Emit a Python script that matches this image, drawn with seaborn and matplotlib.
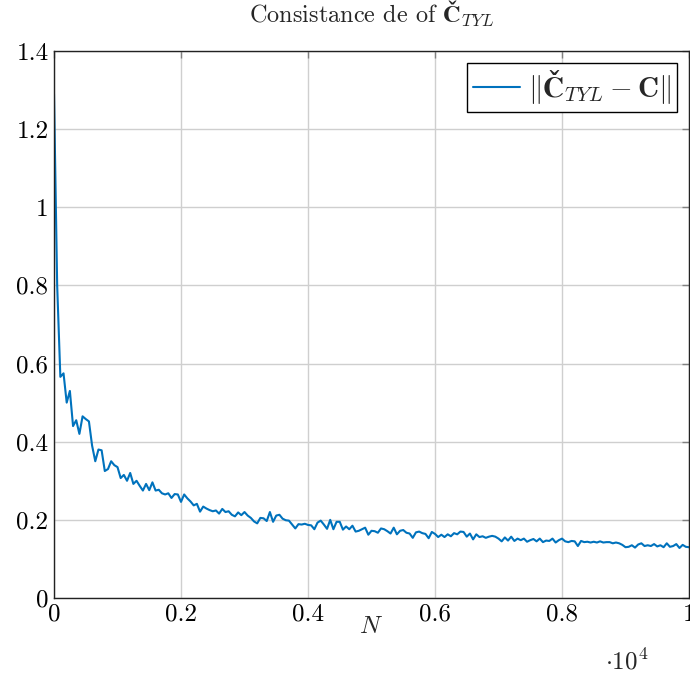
import numpy as np
import pandas as pd
import matplotlib.pyplot as plt
import seaborn as sns
from matplotlib.ticker import FuncFormatter

# ------------------------------------------------------------
# Data : error norm vs number of samples N (step 50)
# ------------------------------------------------------------
n_samples = list(range(0, 10001, 50))
err_norm = [
    1.29, 0.80, 0.566, 0.575, 0.50, 0.53, 0.44, 0.455, 0.42, 0.465,
    0.458, 0.452, 0.39, 0.35, 0.38, 0.378, 0.325, 0.33, 0.35, 0.34,
    0.335, 0.307, 0.315, 0.30, 0.32, 0.292, 0.30, 0.287, 0.275, 0.292,
    0.276, 0.296, 0.275, 0.277, 0.268, 0.265, 0.268, 0.256, 0.266, 0.265,
    0.246, 0.265, 0.255, 0.247, 0.237, 0.241, 0.221, 0.234, 0.229, 0.225,
    0.222, 0.224, 0.216, 0.228, 0.220, 0.222, 0.213, 0.209, 0.219, 0.212,
    0.220, 0.211, 0.205, 0.196, 0.191, 0.205, 0.204, 0.197, 0.220, 0.195,
    0.211, 0.213, 0.203, 0.199, 0.198, 0.188, 0.178, 0.189, 0.188, 0.190,
    0.187, 0.186, 0.176, 0.193, 0.198, 0.188, 0.177, 0.200, 0.176, 0.195,
    0.195, 0.175, 0.183, 0.176, 0.185, 0.170, 0.172, 0.176, 0.180, 0.162,
    0.172, 0.171, 0.167, 0.178, 0.176, 0.171, 0.165, 0.180, 0.163, 0.172,
    0.174, 0.167, 0.165, 0.154, 0.168, 0.170, 0.166, 0.164, 0.153, 0.169,
    0.164, 0.156, 0.162, 0.156, 0.163, 0.158, 0.166, 0.163, 0.170, 0.169,
    0.157, 0.165, 0.150, 0.163, 0.156, 0.158, 0.154, 0.157, 0.159, 0.157,
    0.152, 0.145, 0.155, 0.147, 0.157, 0.146, 0.152, 0.148, 0.152, 0.144,
    0.148, 0.151, 0.145, 0.152, 0.143, 0.147, 0.146, 0.152, 0.142, 0.148,
    0.152, 0.145, 0.143, 0.146, 0.145, 0.133, 0.146, 0.143, 0.144, 0.142,
    0.144, 0.142, 0.145, 0.142, 0.143, 0.143, 0.140, 0.142, 0.140, 0.136,
    0.130, 0.131, 0.135, 0.129, 0.137, 0.140, 0.133, 0.135, 0.133, 0.138,
    0.132, 0.135, 0.130, 0.140, 0.131, 0.133, 0.138, 0.128, 0.136, 0.131,
    0.130,
]
x_ticks = [0, 2000, 4000, 6000, 8000, 10000]
y_ticks = [0, 0.2, 0.4, 0.6, 0.8, 1.0, 1.2, 1.4]

sns.set_theme(style="whitegrid")
plt.rcParams["font.family"] = "serif"
plt.rcParams["font.serif"] = ["cmr10"]
plt.rcParams["mathtext.fontset"] = "cm"
plt.rcParams["axes.formatter.use_mathtext"] = True
plt.rcParams["axes.unicode_minus"] = False

df = pd.DataFrame({"N": n_samples, "err": err_norm})

fig = plt.figure(figsize=(6.9, 6.77), dpi=100)
ax = fig.add_axes([54 / 690, 1 - 598 / 677, 635 / 690, 547 / 677])

sns.lineplot(data=df, x="N", y="err", ax=ax, color="#0072BD", linewidth=1.5,
             label=r"$\Vert\mathbf{Č}_{TYL}-\mathbf{C}\Vert$")

ax.set_xlim(0, 10000)
ax.set_ylim(0, 1.4)
ax.set_xticks(x_ticks)
ax.set_yticks(y_ticks)
ax.xaxis.set_major_formatter(FuncFormatter(lambda v, p: f"{v / 1e4:g}"))
ax.yaxis.set_major_formatter(FuncFormatter(lambda v, p: f"{v:g}"))

ax.set_facecolor("white")
ax.grid(True, color="#cfcfcf", linewidth=1.0)
for s in ax.spines.values():
    s.set_color("#222222")
    s.set_linewidth(1.0)
ax.tick_params(direction="in", length=5, width=1, color="#808080",
               top=True, right=True, labelsize=18, pad=4, labelcolor="black")

ax.set_title(r"Consistance de of $\mathbf{Č}_{TYL}$", fontsize=17.5, pad=20)
ax.set_xlabel(r"$N$", fontsize=18, labelpad=-7)
ax.set_ylabel("")
fig.text(627 / 690, 1 - 662 / 677, r"$\cdot 10^4$", ha="center", va="center", fontsize=18)

leg = ax.legend(loc="upper right", fontsize=21, frameon=True, fancybox=False,
                framealpha=1, edgecolor="black", borderaxespad=0.4,
                handlelength=1.6, handletextpad=0.3, borderpad=0.2)
leg.get_frame().set_linewidth(1.0)

plt.savefig("out.png", dpi=100)
